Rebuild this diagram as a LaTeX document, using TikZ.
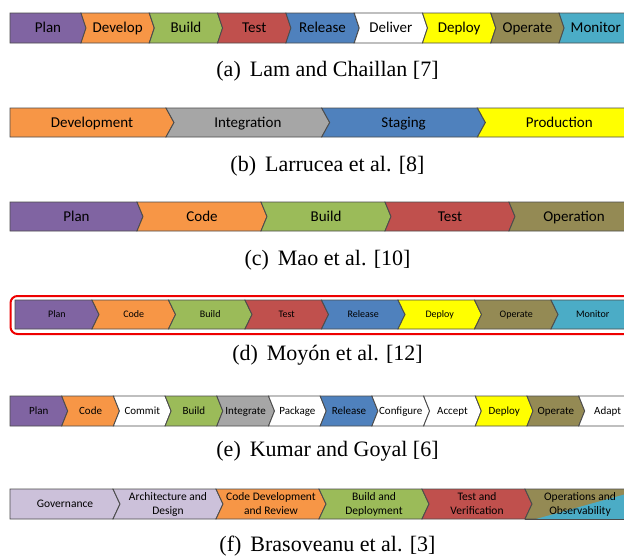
\documentclass[tikz,border=0pt]{standalone}
\usepackage{fontspec}
\setmainfont{Liberation Serif}
\newfontfamily\stagefont{Carlito}
\usepackage{tikz}
\definecolor{plPurple}{HTML}{8064A2}
\definecolor{plOrange}{HTML}{F79646}
\definecolor{plGreen}{HTML}{9BBB59}
\definecolor{plRed}{HTML}{C0504D}
\definecolor{plBlue}{HTML}{4F81BD}
\definecolor{plYellow}{HTML}{FFFF00}
\definecolor{plOlive}{HTML}{948A54}
\definecolor{plTeal}{HTML}{4BACC6}
\definecolor{plGray}{HTML}{A6A6A6}
\definecolor{plLilac}{HTML}{CCC1DA}
\definecolor{plEdge}{gray}{0.3}
\definecolor{plFrame}{HTML}{EE0000}

% #1 row name, #2 top, #3 height, #4 left, #5 first boundary, #6 step, #7 tip, #8 stages
\newcommand{\stagerow}[8]{%
  \foreach \lab/\stagecol [count=\i from 0] in {#8} {
    \pgfmathsetmacro{\xl}{\i==0 ? #4 : #5+(\i-1)*#6}
    \pgfmathsetmacro{\xr}{#5+\i*#6}
    \pgfmathsetmacro{\ym}{#2+#3/2}
    \pgfmathsetmacro{\nt}{\i==0 ? 0 : #7}
    \draw[stage, fill=\stagecol] (\xl,#2) -- (\xr,#2) -- (\xr+#7,\ym) -- (\xr,#2+#3)
      -- (\xl,#2+#3) -- (\xl+\nt,\ym) -- cycle;
    \node[stagelabel] (#1-\i) at ({(\xl+\xr+#7)/2},\ym) {\lab};
  }%
}

\begin{document}
\begin{tikzpicture}[x=1pt, y=-1pt,
    stage/.style={draw=plEdge, line width=0.9pt, line join=miter},
    stagelabel/.style={align=center, inner sep=0pt, text=black},
    big/.style={stagelabel/.append style={font=\stagefont\fontsize{15}{18}\selectfont,
      text height=12.7pt, text depth=3pt}},
    caption/.style={font=\fontsize{22}{26}\selectfont, inner sep=0pt},
    redframe/.style={draw=plFrame, line width=2pt, rounded corners=7pt}]
    \useasboundingbox (0,0) rectangle (624,558);
    \fill[white] (0,0) rectangle (624,558);
    \clip (0,0) rectangle (624,558);

    % (a)
    \begin{scope}[big]
    \stagerow{a}{13}{30}{10}{81}{68.3}{5}{Plan/plPurple, Develop/plOrange, Build/plGreen,
      Test/plRed, Release/plBlue, Deliver/white, Deploy/plYellow, Operate/plOlive, Monitor/plTeal}
    \end{scope}
    \node[caption] (capA) at (327.5,71) {(a)\hspace{9pt}Lam and Chaillan [7]};

    % (b)
    \begin{scope}[big]
    \stagerow{b}{108}{29}{10}{166}{155.7}{8}{Development/plOrange, Integration/plGray,
      Staging/plBlue, Production/plYellow}
    \end{scope}
    \node[caption] (capB) at (327.5,166) {(b)\hspace{9pt}Larrucea et al. [8]};

    % (c)
    \begin{scope}[big]
    \stagerow{c}{202}{29}{10}{137}{124}{6}{Plan/plPurple, Code/plOrange, Build/plGreen,
      Test/plRed, Operation/plOlive}
    \end{scope}
    \node[caption] (capC) at (327.5,260) {(c)\hspace{9pt}Mao et al. [10]};

    % (d) framed one
    \begin{scope}[stagelabel/.append style={font=\stagefont\fontsize{10}{12}\selectfont,
      text height=8.4pt, text depth=2pt}]
    \stagerow{d}{300}{29}{15}{92}{76.5}{7}{Plan/plPurple, Code/plOrange, Build/plGreen,
      Test/plRed, Release/plBlue, Deploy/plYellow, Operate/plOlive, Monitor/plTeal}
    \end{scope}
    \draw[redframe] (10.5,296) rectangle (660,334);
    \node[caption] (capD) at (327.5,355) {(d)\hspace{9pt}Moy\'on et al. [12]};

    % (e)
    \begin{scope}[stagelabel/.append style={font=\stagefont\fontsize{11}{13}\selectfont,
      text height=9.3pt, text depth=2.2pt}]
    \stagerow{e}{396}{30}{10}{61.7}{51.7}{6}{Plan/plPurple, Code/plOrange, Commit/white,
      Build/plGreen, Integrate/plGray, Package/white, Release/plBlue, Configure/white,
      Accept/white, Deploy/plYellow, Operate/plOlive, Adapt/white}
    \end{scope}
    \node[caption] (capE) at (327.5,451) {(e)\hspace{9pt}Kumar and Goyal [6]};

    % (f)
    \begin{scope}[stagelabel/.append style={font=\stagefont\fontsize{11.5}{14}\selectfont}]
    \stagerow{f}{489}{30}{10}{113}{103}{7}{Governance/plLilac, {Architecture and\\Design}/plLilac,
      {Code Development\\and Review}/plOrange, {Build and\\Deployment}/plGreen,
      {Test and\\Verification}/plRed, {}/plOlive}
    \fill[plTeal] (536,519) -- (626,494) -- (626,519) -- cycle;
    \draw[stage] (525,519) -- (626,519);
    \node[stagelabel] (f-ops) at (f-5) {Operations and\\Observability};
    \end{scope}
    \node[caption] (capF) at (327.5,546) {(f)\hspace{9pt}Brasoveanu et al. [3]};
\end{tikzpicture}
\end{document}
